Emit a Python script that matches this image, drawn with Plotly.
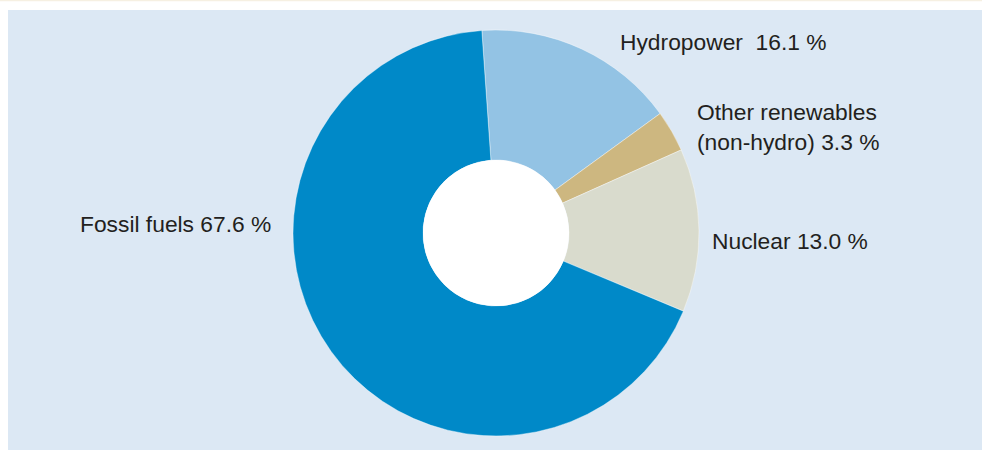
import plotly.graph_objects as go

# Data
sources = ["Hydropower", "Other renewables (non-hydro)", "Nuclear", "Fossil fuels"]
shares = [16.1, 3.3, 13.0, 67.6]
label_texts = [
    "Hydropower\u00a0 16.1 %",
    "Other renewables<br>(non-hydro) 3.3 %",
    "Nuclear 13.0 %",
    "Fossil fuels 67.6 %",
]

colors = ["#93c3e4", "#cdb780", "#d9dbcd", "#0089c8"]
W, H = 982, 450
cx, cy, R, r_hole = 496, 233, 203, 73

def px_x(x):
    return x / W

def px_y(y):
    return 1 - y / H

fig = go.Figure()
fig.add_trace(go.Pie(
    labels=sources,
    values=shares,
    hole=r_hole / R,
    rotation=-4,
    direction="clockwise",
    sort=False,
    textinfo="none",
    marker=dict(colors=colors, line=dict(color="#ffffff", width=0.4)),
    domain=dict(x=[px_x(cx - R), px_x(cx + R)], y=[px_y(cy + R), px_y(cy - R)]),
    showlegend=False,
    hoverinfo="label+value",
))
# white centre disc
fig.add_trace(go.Pie(
    labels=[""],
    values=[1],
    textinfo="none",
    marker=dict(colors=["#ffffff"], line=dict(width=0)),
    domain=dict(x=[px_x(cx - r_hole), px_x(cx + r_hole)], y=[px_y(cy + r_hole), px_y(cy - r_hole)]),
    showlegend=False,
    hoverinfo="skip",
    sort=False,
))

font = dict(family="Liberation Sans, Arial, sans-serif", size=22.8, color="#231f20")
label_pos = [
    (618, 42, "left"),
    (695, 127, "left"),
    (710, 241, "left"),
    (273, 224, "right"),
]
for txt, (x, y, anc) in zip(label_texts, label_pos):
    fig.add_annotation(
        x=px_x(x), y=px_y(y), xref="paper", yref="paper",
        text=txt, showarrow=False, xanchor=anc, yanchor="middle",
        align="left", font=font,
    )

fig.update_layout(
    width=W, height=H, autosize=False,
    margin=dict(l=0, r=0, t=0, b=0),
    paper_bgcolor="#ffffff",
    plot_bgcolor="#ffffff",
    shapes=[
        dict(type="rect", xref="paper", yref="paper",
             x0=px_x(8), x1=1, y0=0, y1=px_y(10),
             fillcolor="#dce8f4", line=dict(width=0), layer="below"),
        dict(type="line", xref="paper", yref="paper",
             x0=0, x1=1, y0=px_y(0.5), y1=px_y(0.5),
             line=dict(color="#f6f0e2", width=1.5), layer="below"),
    ],
)

fig.write_html("out.html", config={"displayModeBar": False},
               post_script="document.body.style.margin='0';")
